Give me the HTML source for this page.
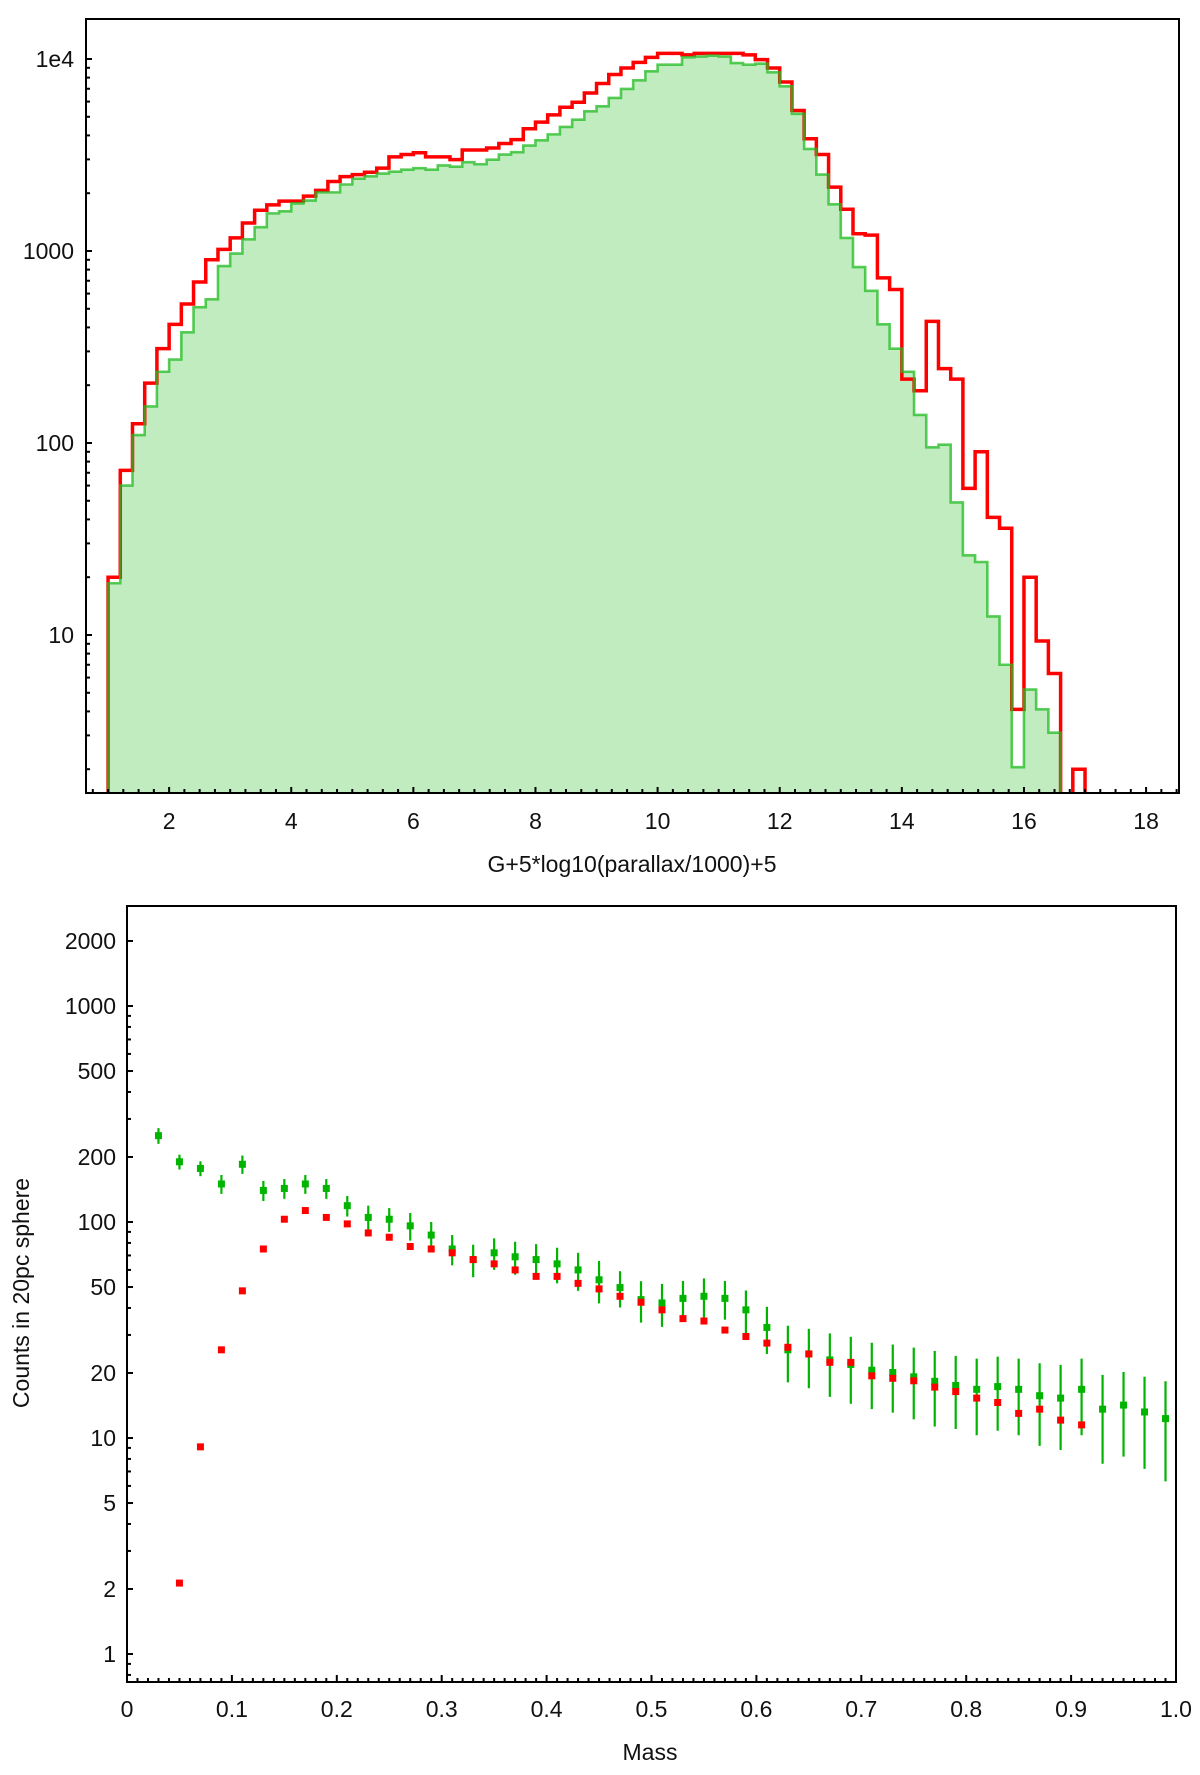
<!DOCTYPE html>
<html><head><meta charset="utf-8"><style>
body{margin:0;background:#fff;}
svg text{font-family:"Liberation Sans","DejaVu Sans",sans-serif;fill:#111;}
</style></head><body>
<svg id="chart" width="1200" height="1770" viewBox="0 0 1200 1770" xmlns="http://www.w3.org/2000/svg">
<defs>
<clipPath id="clipTop"><rect x="86" y="19" width="1093" height="774"/></clipPath>
<clipPath id="clipBot"><rect x="127" y="906" width="1049" height="776"/></clipPath>
</defs>
<g id="topPanel"></g>
<g id="botPanel"></g>
</svg>
<script>
// ---- Top histogram data ----
const binStart = 1.0;
const binWidth = 0.2;
const redCounts = [20,72,126,205,310,415,530,690,900,1020,1170,1400,1630,1740,1820,1820,1930,2070,2300,2440,2500,2570,2700,3090,3180,3250,3090,3090,2990,3360,3360,3440,3630,3800,4330,4690,5120,5610,5950,6650,7450,8300,8980,9610,10200,10700,10700,10500,10700,10700,10700,10700,10500,9920,8980,7590,5390,3840,3180,2150,1650,1230,1210,725,630,215,187,430,244,215,58,90,41,36,4.1,20,9.3,6.3,1,2];
const greenCounts = [18.6,60,110,155,235,272,377,510,560,835,970,1150,1330,1570,1610,1770,1830,2020,2020,2220,2380,2450,2530,2590,2650,2700,2650,2790,2750,2900,2830,2990,3180,3270,3540,3770,4050,4430,4830,5340,5670,6270,6980,7740,8630,9340,9340,10200,10300,10400,10300,9530,9340,9450,8520,7210,5180,3400,2500,1750,1170,825,620,415,310,235,140,95,98,49,26,24,12.5,7,2.05,5.2,4.1,3.1,1,1];
const topXTicks = [2,4,6,8,10,12,14,16,18];
const topYTicks = [10,100,1000,10000];
const topYLabels = ["10","100","1000","1e4"];

// ---- Bottom mass function data ----
const massBins = [0.03,0.05,0.07,0.09,0.11,0.13,0.15,0.17,0.19,0.21,0.23,0.25,0.27,0.29,0.31,0.33,0.35,0.37,0.39,0.41,0.43,0.45,0.47,0.49,0.51,0.53,0.55,0.57,0.59,0.61,0.63,0.65,0.67,0.69,0.71,0.73,0.75,0.77,0.79,0.81,0.83,0.85,0.87,0.89,0.91,0.93,0.95,0.97,0.99];
const greenMF = [251,190,177,150,185,140,143,150,143,119,105,103,96,87,75,67,72,69,67,64,60,54,49.7,43.7,42.2,44.3,45.3,44.3,39.2,32.5,25.6,24.5,23,21.9,20.6,20.1,19.2,18.3,17.5,16.8,17.3,16.8,15.7,15.3,16.8,13.6,14.2,13.2,12.3];
const greenErr = [21,15,14,15,18,15,15,15,15,13,14,13,14,13,12,11.5,12,12,12,12,12,12,9.5,9.5,9.5,9,9.5,9,9,8,7.5,7.5,7.5,7.5,7,7,7,7,6.5,6.5,6.5,6.5,6.5,6.5,6.5,6,6,6,6];
const redMF = [null,2.13,9.1,25.6,48,75,103,113,105,98,89,85,77,75,72,67,64,60,56,56,52,49,45.3,42.5,39.2,35.7,34.8,31.6,29.5,27.5,26.3,24.5,22.4,22.4,19.4,18.9,18.4,17.2,16.4,15.3,14.6,13,13.6,12.1,11.5,null,null,null,null];
const botXTicks = [0,0.1,0.2,0.3,0.4,0.5,0.6,0.7,0.8,0.9,1.0];
const botXLabels = ["0","0.1","0.2","0.3","0.4","0.5","0.6","0.7","0.8","0.9","1.0"];
const botYTicks = [1,2,5,10,20,50,100,200,500,1000,2000];

const NS = "http://www.w3.org/2000/svg";
function mk(parent, tag, attrs){const e=document.createElementNS(NS,tag);for(const k in attrs)e.setAttribute(k,attrs[k]);parent.appendChild(e);return e;}

// ---------- TOP ----------
const T = {l:86,r:1179,t:19,b:793};
const txS = v => 47 + 61.06*v;
const tyS = v => 635 - (Math.log10(Math.max(v,0.5)) - 1)*192;
const topG = document.getElementById('topPanel');
function histPath(vals, close){
  let d = "";
  const y0 = T.b+5;
  vals.forEach((v,i)=>{
    const x0 = txS(binStart+i*binWidth), x1 = txS(binStart+(i+1)*binWidth);
    const y = Math.min(tyS(v), y0);
    if(i===0) d += `M${x0},${y0}L${x0},${y}`; else d += `L${x0},${y}`;
    d += `L${x1},${y}`;
    if(i===vals.length-1) d += `L${x1},${y0}`;
  });
  if(close) d += "Z";
  return d;
}
const gclip = mk(topG,'g',{'clip-path':'url(#clipTop)'});
const fill = mk(gclip,'path',{d:histPath(greenCounts,true),fill:'#c0ecc0',stroke:'none'});


const redLine = mk(gclip,'path',{d:histPath(redCounts,false),fill:'none',stroke:'#ff0000','stroke-width':3.5});


const greenLine = mk(gclip,'path',{d:histPath(greenCounts,false),fill:'none',stroke:'#22bb22','stroke-width':2.6,'stroke-opacity':0.75});


const tframe = mk(topG,'rect',{x:T.l,y:T.t,width:T.r-T.l,height:T.b-T.t,fill:'none',stroke:'#000','stroke-width':2});


for(let v=0.75; v<=18.5; v+=0.25){
  const x=txS(v); if(x<T.l||x>T.r) continue;
  const major = Math.abs(v-Math.round(v))<1e-6 && Math.round(v)%2===0;
  mk(topG,'line',{x1:x,x2:x,y1:T.b,y2:T.b-(major?6:4),stroke:'#000','stroke-width':2});
}
topXTicks.forEach(v=>{
  const t=mk(topG,'text',{x:txS(v),y:829,'text-anchor':'middle','font-size':23});
  t.textContent=v;
  
  
});
for(let dec=0; dec<=4; dec++){
  for(let m=1;m<=9;m++){
    const v=m*Math.pow(10,dec); const y=tyS(v);
    if(y<T.t||y>T.b) continue;
    mk(topG,'line',{x1:T.l,x2:T.l+(m===1?6:4),y1:y,y2:y,stroke:'#000','stroke-width':2});
  }
}
topYTicks.forEach((v,i)=>{
  const t=mk(topG,'text',{x:74,y:tyS(v)+8,'text-anchor':'end','font-size':23});
  t.textContent=topYLabels[i];
  
  
});
const xt=mk(topG,'text',{x:632,y:872,'text-anchor':'middle','font-size':23});
xt.textContent="G+5*log10(parallax/1000)+5";



// ---------- BOTTOM ----------
const B = {l:127,r:1176,t:906,b:1682};
const bxS = v => 127 + 1049*v;
const byS = v => 1654 - Math.log10(v)*216;
const botG = document.getElementById('botPanel');
const bclip = mk(botG,'g',{'clip-path':'url(#clipBot)'});
massBins.forEach((m,i)=>{
  const x=bxS(m);
  if(greenMF[i]!=null){
    const v=greenMF[i], e=greenErr[i];
    const eb=mk(bclip,'line',{x1:x,x2:x,y1:byS(v+e),y2:byS(Math.max(v-e,0.5)),stroke:'#00b400','stroke-width':2.2});
    
    
    const p=mk(bclip,'rect',{x:x-3.5,y:byS(v)-3.5,width:7,height:7,fill:'#00b400'});
    
    
  }
});
massBins.forEach((m,i)=>{
  if(redMF[i]==null) return;
  const x=bxS(m), v=redMF[i];
  const p=mk(bclip,'rect',{x:x-3.5,y:byS(v)-3.5,width:7,height:7,fill:'#ff0000'});
  
  
});
const bframe=mk(botG,'rect',{x:B.l,y:B.t,width:B.r-B.l,height:B.b-B.t,fill:'none',stroke:'#000','stroke-width':2});


for(let k=0;k<=100;k++){
  const x=bxS(k/100); const major=k%10===0;
  mk(botG,'line',{x1:x,x2:x,y1:B.b,y2:B.b-(major?7:4),stroke:'#000','stroke-width':2});
}
botXTicks.forEach((v,i)=>{
  const t=mk(botG,'text',{x:bxS(v),y:1717,'text-anchor':'middle','font-size':23});
  t.textContent=botXLabels[i];
  
  
});
for(let dec=-1; dec<=3; dec++){
  for(let m=1;m<=9;m++){
    const v=m*Math.pow(10,dec); const y=byS(v);
    if(y<B.t||y>B.b) continue;
    const major = botYTicks.includes(v);
    mk(botG,'line',{x1:B.l,x2:B.l+(major?6:4),y1:y,y2:y,stroke:'#000','stroke-width':2});
  }
}
botYTicks.forEach(v=>{
  const t=mk(botG,'text',{x:116,y:byS(v)+8,'text-anchor':'end','font-size':23});
  t.textContent=v;
  
  
});
const bxt=mk(botG,'text',{x:650,y:1760,'text-anchor':'middle','font-size':23});
bxt.textContent="Mass";


const byt=mk(botG,'text',{x:29,y:1293,'text-anchor':'middle','font-size':23,transform:'rotate(-90 29 1293)'});
byt.textContent="Counts in 20pc sphere";


</script>
</body></html>
